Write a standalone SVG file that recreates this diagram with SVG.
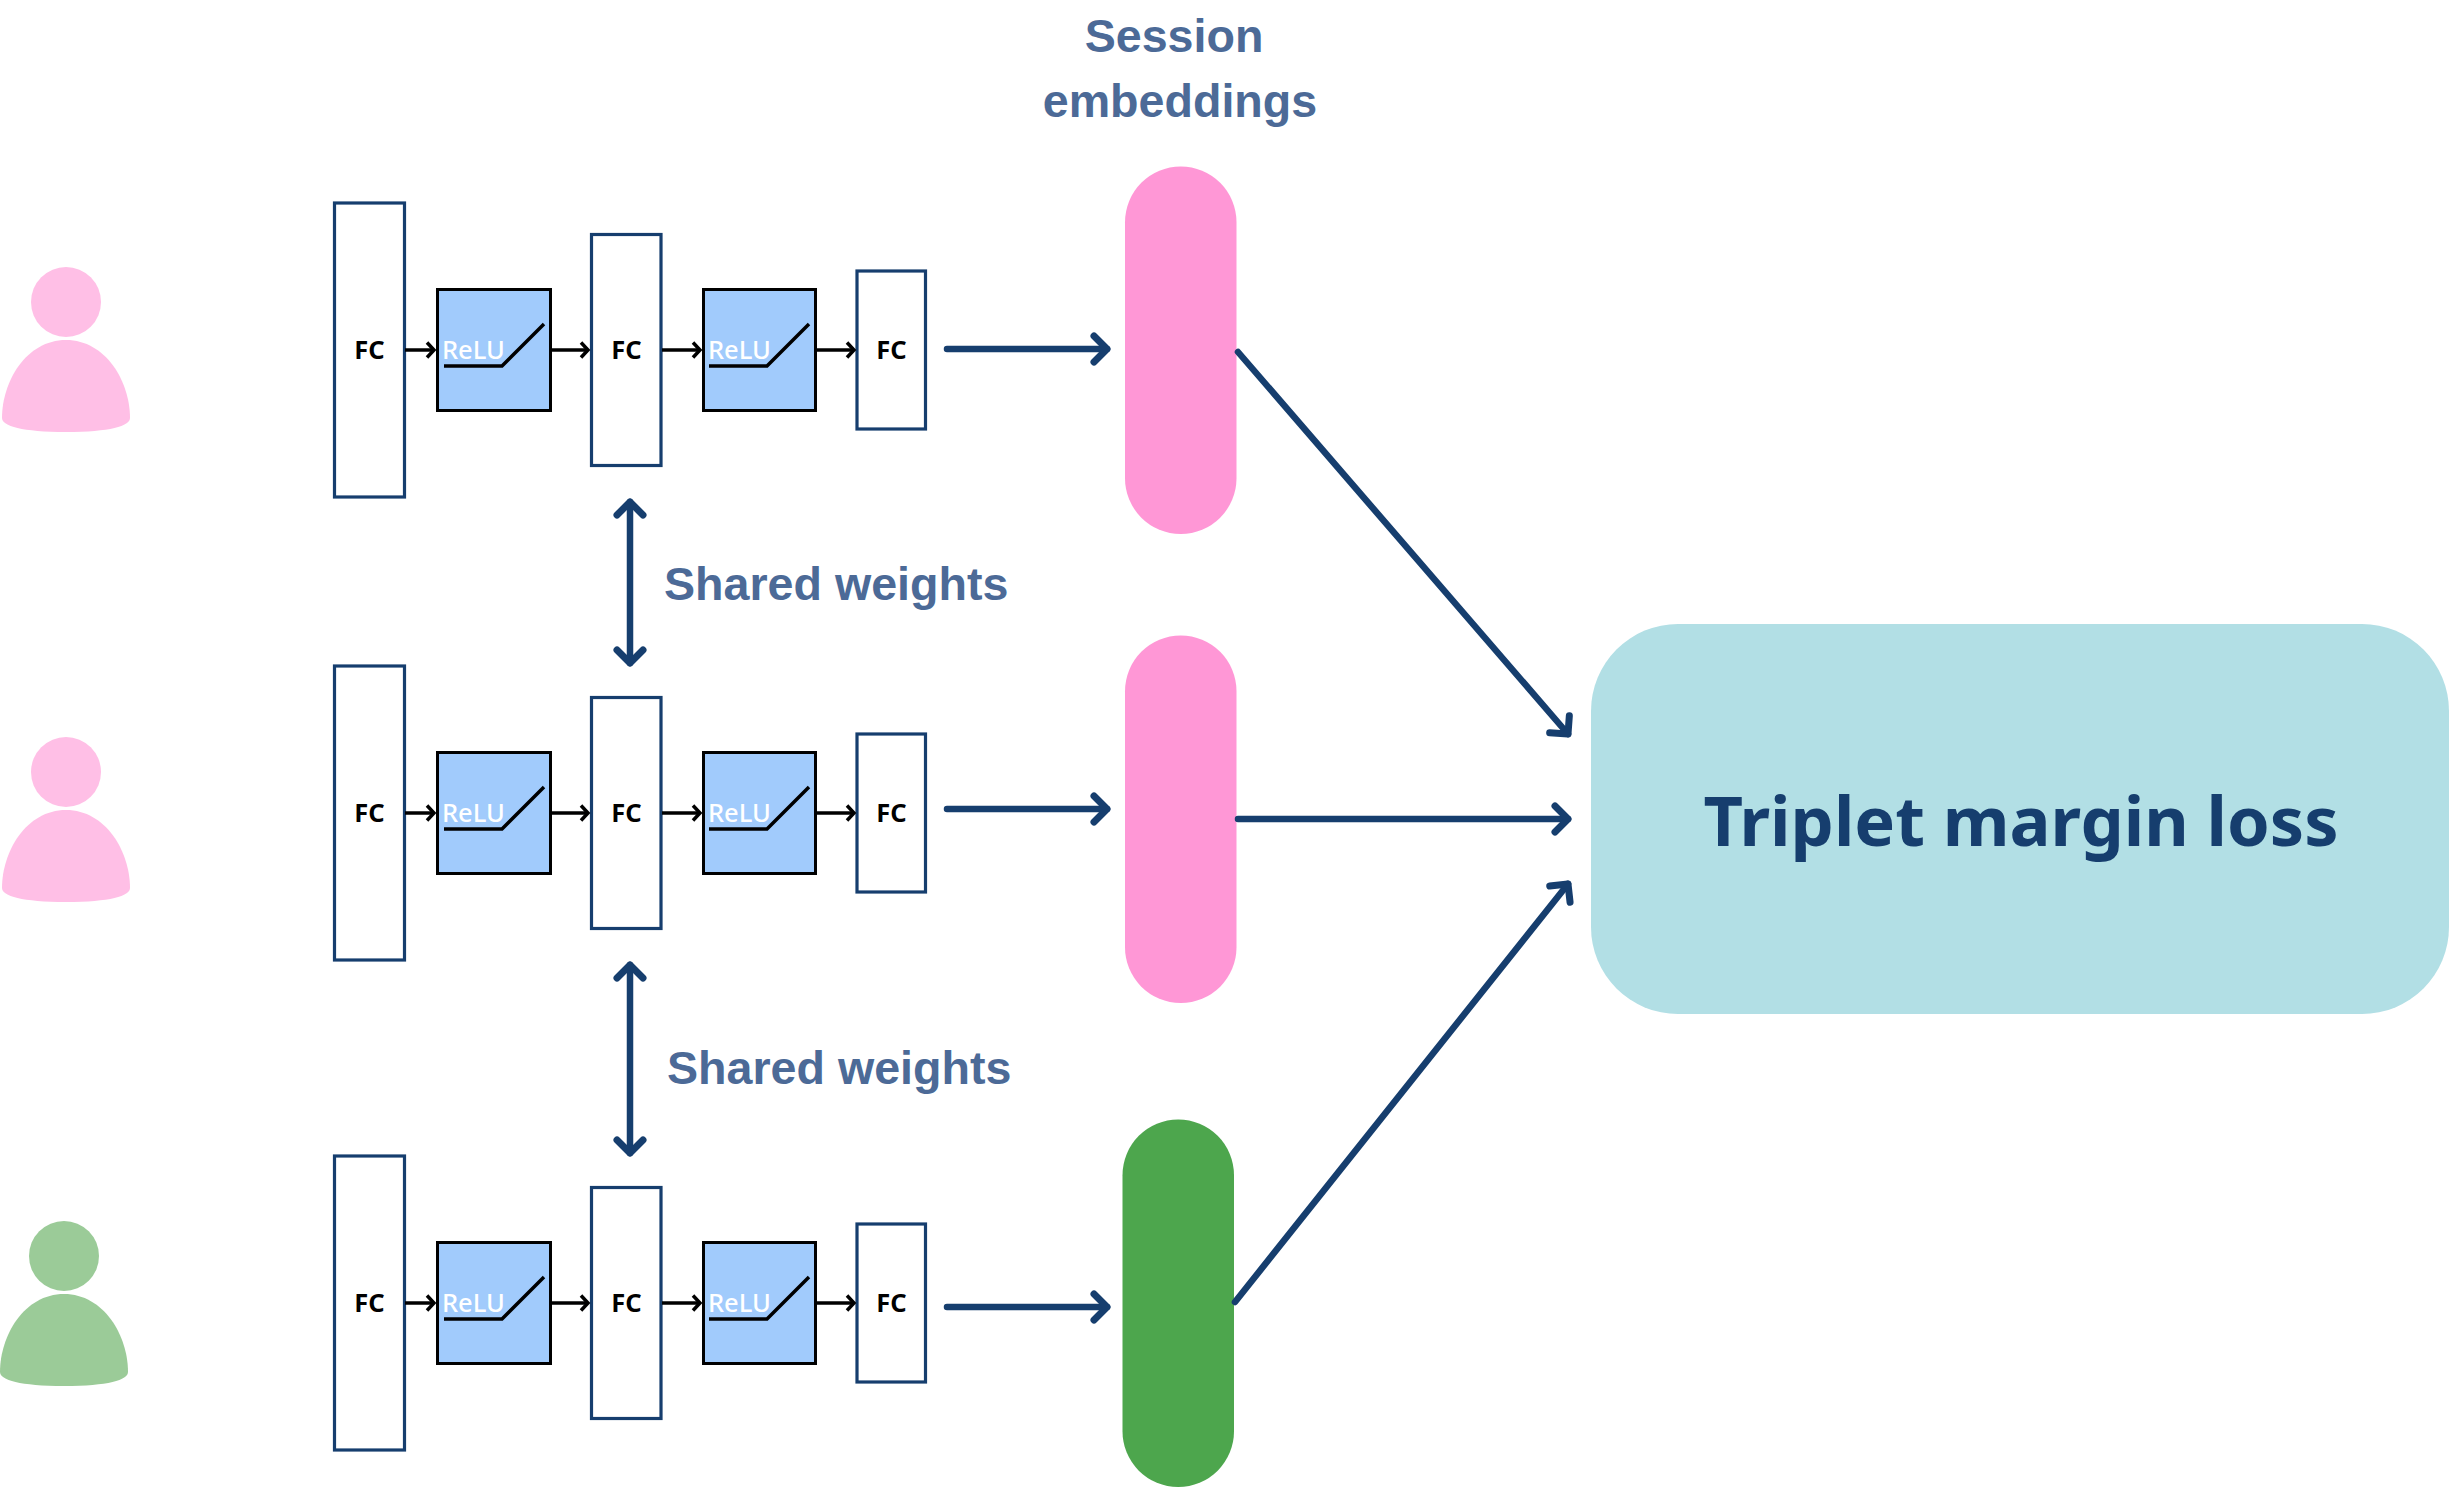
<svg xmlns="http://www.w3.org/2000/svg" width="2450" height="1487" viewBox="0 0 2450 1487">
<style>
.fc{fill:#fff;stroke:#163E6E;stroke-width:3.2}
.relu{fill:#A1CBFC;stroke:#000;stroke-width:3}
.curve{fill:none;stroke:#000;stroke-width:3.5}
.fct{font:700 25.500px "Noto Sans",sans-serif;fill:#000;text-anchor:middle}
.rt{font:500 25.500px "Noto Sans",sans-serif;fill:#fff}
.lab{font:700 46.600px "Liberation Sans",Arial,sans-serif;fill:#4C6A97}
.small{fill:none;stroke:#000;stroke-width:3.5;marker-end:url(#hs)}
.big{fill:none;stroke:#163E6E;stroke-width:6.500;stroke-linecap:round;marker-end:url(#hb)}
.dbl{fill:none;stroke:#163E6E;stroke-width:6.500;stroke-linecap:round;marker-end:url(#hb);marker-start:url(#hbs)}
.pp{fill:#FFBFE6}.pg{fill:#9BCB98}
</style>
<defs>
<marker id="hs" markerUnits="userSpaceOnUse" markerWidth="20" markerHeight="24" refX="14" refY="12" orient="auto" overflow="visible"><path d="M7 4.500L14 12L7 19.500" fill="none" stroke="#000" stroke-width="3.500"/></marker>
<marker id="hb" markerUnits="userSpaceOnUse" markerWidth="40" markerHeight="40" refX="30" refY="20" orient="auto" overflow="visible"><path d="M17 7L30 20L17 33" fill="none" stroke="#163E6E" stroke-width="7" stroke-linecap="round" stroke-linejoin="round"/></marker>
<marker id="hbs" markerUnits="userSpaceOnUse" markerWidth="40" markerHeight="40" refX="10" refY="20" orient="auto" overflow="visible"><path d="M23 7L10 20L23 33" fill="none" stroke="#163E6E" stroke-width="7" stroke-linecap="round" stroke-linejoin="round"/></marker>
<path id="bodyshape" d="M2 418C2 382 26 340 66 340C106 340 130 382 130 418C130 426 110 432 66 432C22 432 2 426 2 418Z"/>
</defs>
<g id="person-1" class="pp"><circle cx="66" cy="302" r="35"/><use href="#bodyshape"/></g>
<g id="person-2" class="pp" transform="translate(0 470)"><circle cx="66" cy="302" r="35"/><use href="#bodyshape"/></g>
<g id="person-3" class="pg" transform="translate(-2 954)"><circle cx="66" cy="302" r="35"/><use href="#bodyshape"/></g>

<g id="r1-fc1"><rect class="fc" x="334.500" y="203" width="70" height="294"/><text class="fct" x="369.500" y="359">FC</text></g>
<g id="r1-relu1"><rect class="relu" x="437.500" y="289.500" width="113" height="121"/><path class="curve" d="M444 366H502L544 324"/><text class="rt" x="442" y="359">ReLU</text></g>
<g id="r1-fc2"><rect class="fc" x="591.500" y="234.500" width="69.500" height="231"/><text class="fct" x="626.500" y="359">FC</text></g>
<g id="r1-relu2"><rect class="relu" x="703.500" y="289.500" width="112" height="121"/><path class="curve" d="M709 366H767L809 324"/><text class="rt" x="708" y="359">ReLU</text></g>
<g id="r1-fc3"><rect class="fc" x="857" y="271" width="68.500" height="158"/><text class="fct" x="891.500" y="359">FC</text></g>

<g id="r2-fc1" transform="translate(0 463)"><rect class="fc" x="334.500" y="203" width="70" height="294"/><text class="fct" x="369.500" y="359">FC</text></g>
<g id="r2-relu1" transform="translate(0 463)"><rect class="relu" x="437.500" y="289.500" width="113" height="121"/><path class="curve" d="M444 366H502L544 324"/><text class="rt" x="442" y="359">ReLU</text></g>
<g id="r2-fc2" transform="translate(0 463)"><rect class="fc" x="591.500" y="234.500" width="69.500" height="231"/><text class="fct" x="626.500" y="359">FC</text></g>
<g id="r2-relu2" transform="translate(0 463)"><rect class="relu" x="703.500" y="289.500" width="112" height="121"/><path class="curve" d="M709 366H767L809 324"/><text class="rt" x="708" y="359">ReLU</text></g>
<g id="r2-fc3" transform="translate(0 463)"><rect class="fc" x="857" y="271" width="68.500" height="158"/><text class="fct" x="891.500" y="359">FC</text></g>

<g id="r3-fc1" transform="translate(0 953)"><rect class="fc" x="334.500" y="203" width="70" height="294"/><text class="fct" x="369.500" y="359">FC</text></g>
<g id="r3-relu1" transform="translate(0 953)"><rect class="relu" x="437.500" y="289.500" width="113" height="121"/><path class="curve" d="M444 366H502L544 324"/><text class="rt" x="442" y="359">ReLU</text></g>
<g id="r3-fc2" transform="translate(0 953)"><rect class="fc" x="591.500" y="234.500" width="69.500" height="231"/><text class="fct" x="626.500" y="359">FC</text></g>
<g id="r3-relu2" transform="translate(0 953)"><rect class="relu" x="703.500" y="289.500" width="112" height="121"/><path class="curve" d="M709 366H767L809 324"/><text class="rt" x="708" y="359">ReLU</text></g>
<g id="r3-fc3" transform="translate(0 953)"><rect class="fc" x="857" y="271" width="68.500" height="158"/><text class="fct" x="891.500" y="359">FC</text></g>

<g id="emb-1"><rect x="1125" y="166.500" width="111.500" height="367.500" rx="55.700" fill="#FF97D6"/></g>
<g id="emb-2"><rect x="1125" y="635.500" width="111.500" height="367.500" rx="55.700" fill="#FF97D6"/></g>
<g id="emb-3"><rect x="1122.500" y="1119.500" width="111.500" height="367.500" rx="55.700" fill="#4DA64D"/></g>

<g id="loss"><rect x="1591" y="624" width="858" height="390" rx="87" fill="#B2DFE5"/><text x="2021" y="846" text-anchor="middle" style="font:700 68.500px 'Noto Sans',sans-serif;fill:#163E6E">Triplet margin loss</text></g>

<g id="labels">
<text class="lab" x="1174" y="52" text-anchor="middle">Session</text>
<text class="lab" x="1180" y="117" text-anchor="middle">embeddings</text>
<text class="lab" x="664" y="600">Shared weights</text>
<text class="lab" x="667" y="1084">Shared weights</text>
</g>

<g id="connectors">
<path class="small" d="M405 350H434"/><path class="small" d="M551 350H588"/><path class="small" d="M662 350H700"/><path class="small" d="M816 350H854"/>
<path class="small" d="M405 813H434"/><path class="small" d="M551 813H588"/><path class="small" d="M662 813H700"/><path class="small" d="M816 813H854"/>
<path class="small" d="M405 1303H434"/><path class="small" d="M551 1303H588"/><path class="small" d="M662 1303H700"/><path class="small" d="M816 1303H854"/>
<path class="big" d="M947 349H1107"/><path class="big" d="M947 809H1107"/><path class="big" d="M947 1307H1107"/>
<path class="dbl" d="M630 502V663"/><path class="dbl" d="M630 965V1153"/>
<path class="big" d="M1238 352L1568 734"/><path class="big" d="M1238 819H1568"/><path class="big" d="M1235 1302L1568 884"/>
</g>
</svg>
